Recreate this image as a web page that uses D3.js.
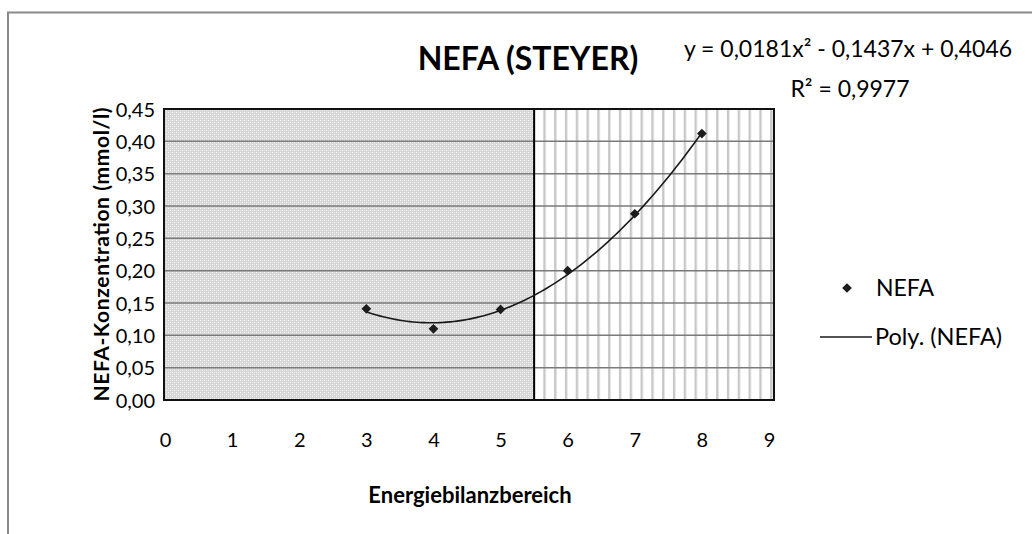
<!DOCTYPE html>
<html>
<head>
<meta charset="utf-8">
<script src="https://cdn.jsdelivr.net/npm/d3@7"></script>
<style>
	body { margin: 0; background: #fff; }
	text { font-family: Lato, "Open Sans", sans-serif; fill: #000; }
</style>
</head>
<body>
<div id="món"></div>
<script>
// dades
const bereich = [3, 4, 5, 6, 7, 8];
const nefa = [0.141, 0.110, 0.140, 0.200, 0.288, 0.412];
const coef = [0.4046, -0.1437, 0.0181]; // c0 + c1*x + c2*x²
const ticksX = [0, 1, 2, 3, 4, 5, 6, 7, 8, 9];
const ticksY = [0, 0.05, 0.10, 0.15, 0.20, 0.25, 0.30, 0.35, 0.40, 0.45];
const tall = 5.5; // límit entre zones

const Amplada = 1032, Alçada = 534;
const marge = {dalt: 109, dreta: 262, baix: 134, esquerra: 165};

const svg = d3.select('#món').append('svg')
	.attr('width', Amplada)
	.attr('height', Alçada);

const defs = svg.append('defs');
// punts (zona esquerra)
const pPunts = defs.append('pattern')
	.attr('id', 'punts').attr('patternUnits', 'userSpaceOnUse')
	.attr('width', 4).attr('height', 4);
pPunts.append('rect').attr('width', 4).attr('height', 4).attr('fill', '#d6d6d6');
pPunts.append('rect').attr('x', 0).attr('y', 0).attr('width', 1).attr('height', 1).attr('fill', '#f6f6f6');
pPunts.append('rect').attr('x', 2).attr('y', 2).attr('width', 1).attr('height', 1).attr('fill', '#f6f6f6');
pPunts.append('rect').attr('x', 2).attr('y', 0).attr('width', 1).attr('height', 1).attr('fill', '#e8e8e8');
pPunts.append('rect').attr('x', 0).attr('y', 2).attr('width', 1).attr('height', 1).attr('fill', '#e8e8e8');
// ratlles verticals (zona dreta)
const pRatlles = defs.append('pattern')
	.attr('id', 'ratlles').attr('patternUnits', 'userSpaceOnUse')
	.attr('width', 10.8).attr('height', 10)
	.attr('x', 3.3);
pRatlles.append('rect').attr('width', 10.8).attr('height', 10).attr('fill', '#fff');
pRatlles.append('rect').attr('x', 0).attr('width', 2.4).attr('height', 10).attr('fill', '#c8c8c8');

// marc exterior (retallat)
svg.append('path')
	.attr('d', 'M8,540 L8,12.5 L1040,12.5')
	.attr('fill', 'none')
	.attr('stroke', '#8a8a8a')
	.attr('stroke-width', 2);

const x = d3.scaleLinear().domain([0, 9]).range([marge.esquerra, 769]);
const y = d3.scaleLinear().domain([0, 0.45]).range([Alçada - marge.baix, marge.dalt]);

const x0 = 164, x1 = 774;
const yTop = y(0.45), yBot = y(0);

svg.append('rect')
	.attr('x', x0).attr('y', yTop)
	.attr('width', x(tall) - x0).attr('height', yBot - yTop)
	.attr('fill', 'url(#punts)');
svg.append('rect')
	.attr('x', x(tall)).attr('y', yTop)
	.attr('width', x1 - x(tall)).attr('height', yBot - yTop)
	.attr('fill', 'url(#ratlles)');

// línies de graella
svg.append('g')
	.selectAll('line')
	.data(ticksY)
	.join('line')
		.attr('x1', x0).attr('x2', x1)
		.attr('y1', d => y(d)).attr('y2', d => y(d))
		.attr('stroke', '#7a7a7a')
		.attr('stroke-width', 1.5);

// línia divisòria
svg.append('line')
	.attr('x1', x(tall)).attr('x2', x(tall))
	.attr('y1', yTop).attr('y2', yBot)
	.attr('stroke', '#000').attr('stroke-width', 2);

// vora de l'àrea
svg.append('rect')
	.attr('x', x0).attr('y', yTop)
	.attr('width', x1 - x0).attr('height', yBot - yTop)
	.attr('fill', 'none').attr('stroke', '#111').attr('stroke-width', 2);

// eixos
const eixY = svg.append('g')
	.attr('transform', `translate(${x0 - 9},0)`)
	.call(d3.axisLeft(y).tickValues(ticksY).tickSize(0)
		.tickFormat(d => d3.format('.2f')(d).replace('.', ',')));
eixY.select('.domain').remove();
eixY.selectAll('text').attr('font-size', 20).attr('x', 0).attr('dy', '0.35em');

const eixX = svg.append('g')
	.attr('transform', `translate(0,${yBot + 30})`)
	.call(d3.axisBottom(x).tickValues(ticksX).tickSize(0));
eixX.select('.domain').remove();
eixX.selectAll('text').attr('font-size', 20).attr('dy', '0.35em').attr('y', 10);

// corba polinòmica
const corba = d3.range(bereich[0], bereich[bereich.length - 1] + 0.001, 0.05)
	.map(v => [v, coef[0] + coef[1] * v + coef[2] * v * v]);
svg.append('path')
	.datum(corba)
	.attr('d', d3.line().x(d => x(d[0])).y(d => y(d[1])).curve(d3.curveBasis))
	.attr('fill', 'none')
	.attr('stroke', '#1a1a1a')
	.attr('stroke-width', 1.6);

// punts
const diamant = d3.symbol().type(d3.symbolDiamond2).size(60);
svg.append('g')
	.selectAll('path')
	.data(bereich)
	.join('path')
		.attr('transform', (d, i) => `translate(${x(d)},${y(nefa[i])})`)
		.attr('d', diamant)
		.attr('fill', '#1c1c1c');

// títols
svg.append('text')
	.attr('x', 528).attr('y', 70)
	.attr('text-anchor', 'middle')
	.attr('font-size', 32).attr('font-weight', 'bold')
	.text('NEFA (STEYER)');

svg.append('text')
	.attr('x', 848).attr('y', 57)
	.attr('text-anchor', 'middle')
	.attr('font-size', 23)
	.text('y = 0,0181x² - 0,1437x + 0,4046');
svg.append('text')
	.attr('x', 850).attr('y', 97)
	.attr('text-anchor', 'middle')
	.attr('font-size', 23)
	.text('R² = 0,9977');

svg.append('text')
	.attr('x', 470).attr('y', 503)
	.attr('text-anchor', 'middle')
	.attr('font-size', 22).attr('font-weight', 'bold')
	.text('Energiebilanzbereich');

svg.append('text')
	.attr('transform', `translate(109,${(yTop + yBot) / 2}) rotate(-90)`)
	.attr('text-anchor', 'middle')
	.attr('font-size', 21).attr('font-weight', 'bold')
	.attr('textLength', 294).attr('lengthAdjust', 'spacing')
	.text('NEFA-Konzentration (mmol/l)');

// llegenda
svg.append('path')
	.attr('transform', 'translate(847,288)')
	.attr('d', diamant)
	.attr('fill', '#1c1c1c');
svg.append('text')
	.attr('x', 876).attr('y', 288).attr('dy', '0.35em')
	.attr('font-size', 23)
	.text('NEFA');
svg.append('line')
	.attr('x1', 820).attr('x2', 872)
	.attr('y1', 337).attr('y2', 337)
	.attr('stroke', '#1a1a1a').attr('stroke-width', 1.6);
svg.append('text')
	.attr('x', 875).attr('y', 337).attr('dy', '0.35em')
	.attr('font-size', 23.5)
	.text('Poly. (NEFA)');
</script>
</body>
</html>
